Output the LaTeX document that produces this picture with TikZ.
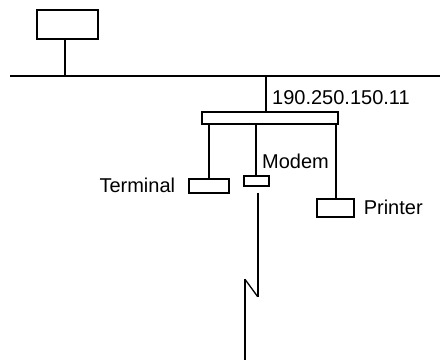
\documentclass[tikz,border=0pt]{standalone}
\usepackage{fontspec}
\setmainfont{Liberation Sans}
\begin{document}
\begin{tikzpicture}[x=1pt,y=-1pt,line width=2pt,
  box/.style={draw,rectangle,inner sep=0pt,fill=white},
  lbl/.style={inner sep=0pt,anchor=base west,font=\fontsize{20}{24}\selectfont}]
\useasboundingbox (0,0) rectangle (440,360);
% bus
\coordinate (busL) at (10,76);
\coordinate (busR) at (440,76);
\draw (busL) -- (busR);
% boxes
\node[box,minimum width=61.3pt,minimum height=29pt] (top) at (67.35,24.5) {};
\node[box,minimum width=136.3pt,minimum height=12pt] (hub) at (269.85,118) {};
\node[box,minimum width=39.7pt,minimum height=14.3pt] (term) at (209.15,185.85) {};
\node[box,minimum width=24.7pt,minimum height=10pt] (modem) at (256.65,180.7) {};
\node[box,minimum width=37pt,minimum height=18pt] (printer) at (335.5,208) {};
% connectors
\draw ([xshift=-2.65pt]top.south) -- ([xshift=-2.65pt]top.south |- busL);
\draw (hub.north -| 265.7,0) -- (265.7,76);
\draw (hub.south -| term.north) -- (term.north);
\draw ([xshift=-0.65pt]hub.south -| modem.north) -- ([xshift=-0.65pt]modem.north);
\draw (hub.south -| printer.north) -- (printer.north);
% line below modem with break
\coordinate (z0) at (257.7,192.5);
\coordinate (z1) at (257.7,296.7);
\coordinate (z2) at (245,279.3);
\coordinate (z3) at (245,359.5);
\draw[line join=miter] (z0) -- (z1);
\draw[line width=1.3pt] (z1) -- (z2);
\draw (z2) -- (z3);
% labels
\node[lbl] (ip) at (271.2,104) {190.250.150.11};
\node[lbl] (tl) at (98.5,192.5) {Terminal};
\node[lbl] (ml) at (261.2,168.5) {Modem};
\node[lbl] (pl) at (362.8,214) {Printer};
\end{tikzpicture}
\end{document}
